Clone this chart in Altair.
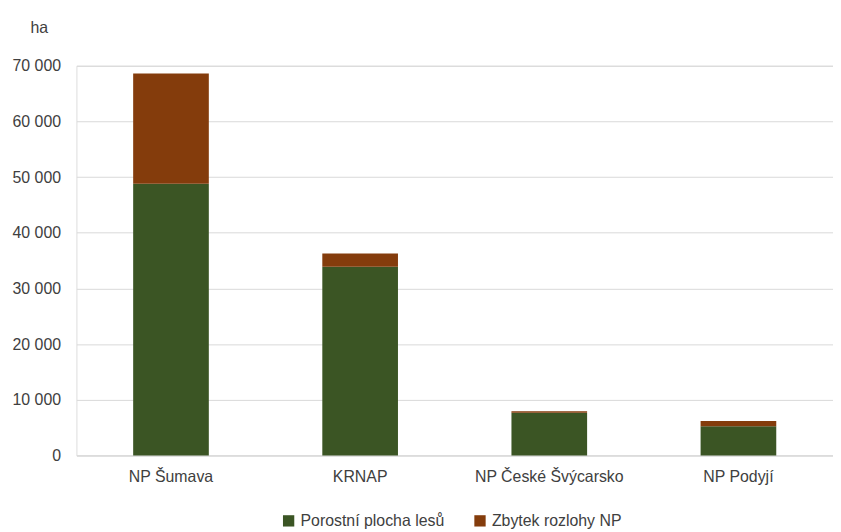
import altair as alt
import pandas as pd

parks = ["NP Šumava", "KRNAP", "NP České Švýcarsko", "NP Podyjí"]
forest = [48800, 33900, 7650, 5250]
rest = [19800, 2350, 300, 950]
series = ["Porostní plocha lesů", "Zbytek rozlohy NP"]
colors = ["#3B5524", "#843C0C"]

rows = []
for p, f, r in zip(parks, forest, rest):
    rows.append({"park": p, "series": series[0], "value": f, "ord": 0})
    rows.append({"park": p, "series": series[1], "value": r, "ord": 1})
df = pd.DataFrame(rows)

FONT = "Liberation Sans"
TXT = "#404040"
FS = 16

chart = alt.Chart(df).mark_bar().encode(
    x=alt.X("park:N", sort=parks, title=None,
            scale=alt.Scale(paddingInner=0.6, paddingOuter=0.3),
            axis=alt.Axis(labelAngle=0, labelPadding=13, ticks=False, domain=True,
                          domainColor="#d9d9d9", labelFontSize=FS, labelFont=FONT,
                          labelColor=TXT)),
    y=alt.Y("value:Q", stack="zero", title="ha",
            scale=alt.Scale(domain=[0, 70000], nice=False),
            axis=alt.Axis(values=[0, 10000, 20000, 30000, 40000, 50000, 60000, 70000],
                          labelExpr="replace(format(datum.value, ','), ',', ' ')",
                          domain=False, ticks=False, gridColor="#d9d9d9", gridWidth=1,
                          labelPadding=16, labelFontSize=FS, labelFont=FONT,
                          labelColor=TXT, titleAngle=0, titleX=-38, titleY=-39,
                          titleAlign="center", titleBaseline="middle",
                          titleFontSize=FS, titleFontWeight="normal",
                          titleFont=FONT, titleColor=TXT)),
    color=alt.Color("series:N", sort=series,
                    scale=alt.Scale(domain=series, range=colors),
                    legend=alt.Legend(title=None, orient="none", direction="horizontal",
                                      legendX=206, legendY=451, symbolType="square",
                                      symbolSize=130, symbolStrokeWidth=0,
                                      labelFontSize=FS, labelFont=FONT, labelColor=TXT,
                                      columnPadding=28, labelOffset=4)),
    order=alt.Order("ord:Q", sort="ascending"),
).properties(
    width=763, height=393,
    autosize=alt.AutoSizeParams(type="none"),
    padding={"left": 69, "top": 56, "right": 0, "bottom": 75},
).configure_view(stroke=None).configure(background="white")

chart.save("out.html", embed_options={"renderer": "svg", "actions": False})
